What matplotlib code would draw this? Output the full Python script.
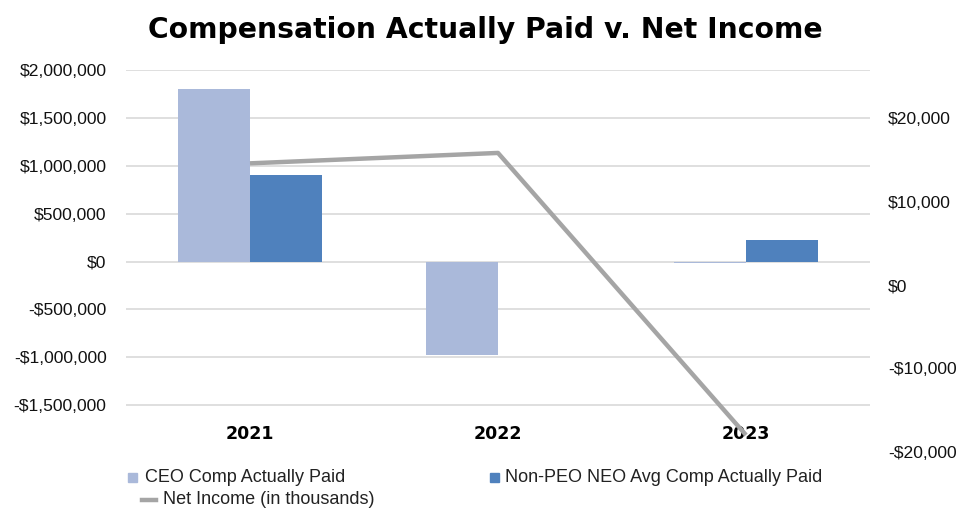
import matplotlib
matplotlib.use("Agg")
import matplotlib.pyplot as plt
from matplotlib.patches import Rectangle
from matplotlib.lines import Line2D
from matplotlib.ticker import FuncFormatter
import numpy as np

# Data
years = ["2021", "2022", "2023"]
ceo_cap = [1800000, -975000, -20000]
neo_cap = [905000, 0, 220000]
net_income = [14600, 15850, -18000]   # in thousands

ceo_color = "#aab9da"
neo_color = "#4f81bd"
line_color = "#a5a5a5"
grid_color = "#d9d9d9"

plt.rcParams["font.family"] = ["Liberation Sans", "DejaVu Sans"]

fig = plt.figure(figsize=(9.71, 5.26), dpi=100)
ax = fig.add_axes([126 / 971, 1 - 453 / 526, 744 / 971, 383 / 526])

x = np.arange(len(years))
w = 0.29
ax.bar(x - w / 2, ceo_cap, w, color=ceo_color, zorder=2)
ax.bar(x + w / 2, neo_cap, w, color=neo_color, zorder=2)

ax.set_xlim(-0.5, 2.5)
ax.set_ylim(-2000000, 2000000)
ax.set_yticks(np.arange(-1500000, 2000001, 500000))
ax.grid(axis="y", color=grid_color, linewidth=1.2, zorder=0)
ax.set_axisbelow(True)
ax.set_xticks([])
for s in ax.spines.values():
    s.set_visible(False)


def dollars(v, pos):
    v = int(round(v))
    return f"-${abs(v):,}" if v < 0 else f"${v:,}"


ax.yaxis.set_major_formatter(FuncFormatter(dollars))
ax.tick_params(axis="y", length=0, pad=14, labelsize=12.6, labelcolor="#111111")

# year labels sit inside the plot near the bottom
for i, yr in enumerate(years):
    ax.text(i, 0.05, yr, transform=ax.get_xaxis_transform(), ha="center",
            va="center", fontsize=12.5, fontweight="bold", family="DejaVu Sans")

# net income on secondary axis
ax2 = ax.twinx()
ax2.plot(x, net_income, color=line_color, linewidth=3.2, zorder=3,
         solid_capstyle="butt")
ax2.set_ylim(-20150, 25800)
ax2.set_yticks(np.arange(-20000, 20001, 10000))
ax2.yaxis.set_major_formatter(FuncFormatter(dollars))
ax2.tick_params(axis="y", length=0, pad=13, labelsize=12.6, labelcolor="#111111")
for s in ax2.spines.values():
    s.set_visible(False)

fig.text(0.5, 1 - 30 / 526, "Compensation Actually Paid v. Net Income",
         ha="center", va="center", fontsize=20.3, fontweight="bold",
         family="DejaVu Sans")

# legend drawn by hand
W, H = 971, 526
fig.add_artist(Rectangle((128 / W, 1 - 482 / H), 9 / W, 9 / H,
                         transform=fig.transFigure, color=ceo_color))
fig.text(145 / W, 1 - 477 / H, "CEO Comp Actually Paid", va="center",
         fontsize=13, color="#222222")
fig.add_artist(Rectangle((490 / W, 1 - 482 / H), 9 / W, 9 / H,
                         transform=fig.transFigure, color=neo_color))
fig.text(505 / W, 1 - 477 / H, "Non-PEO NEO Avg Comp Actually Paid",
         va="center", fontsize=13, color="#222222")
fig.add_artist(Line2D([142 / W, 156 / W], [1 - 500 / H, 1 - 500 / H],
                      transform=fig.transFigure, color=line_color, linewidth=3.2))
fig.text(163 / W, 1 - 500 / H, "Net Income (in thousands)", va="center",
         fontsize=13, color="#222222")

fig.savefig("out.png", dpi=100)
